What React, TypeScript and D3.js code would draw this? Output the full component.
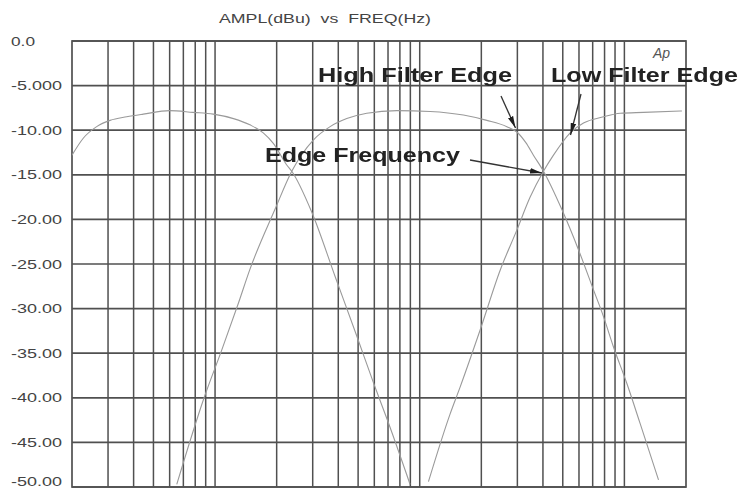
import React from "react";
import * as d3 from "d3";

const W = 741;
const H = 490;

const yTickValues = [0, -5, -10, -15, -20, -25, -30, -35, -40, -45, -50];
const yTickLabels = ["0.0", "-5.000", "-10.00", "-15.00", "-20.00", "-25.00", "-30.00", "-35.00", "-40.00", "-45.00", "-50.00"];

const title = "AMPL(dBu)  vs  FREQ(Hz)";

// Curve A (low band)
const freqA = [20, 22.7, 26.4, 30.7, 37, 44.6, 60, 78, 98, 123, 148, 172, 193, 224, 237, 297, 386, 493, 594, 703, 897];
const ampA = [-12.8, -10.9, -9.6, -8.9, -8.5, -8.2, -7.8, -8.0, -8.2, -8.7, -9.4, -10.3, -11.5, -13.9, -14.6, -19.2, -26.4, -33.1, -38.3, -42.8, -49.7];

// Curve B (mid band)
const freqB = [65, 89, 108, 130, 148, 196, 237, 302, 365, 440, 551, 773, 1124, 1635, 2128, 2665, 2982, 3300, 3594, 4024, 4950, 5966, 7064, 7906, 8846, 10284, 11944, 14678];
const ampB = [-49.7, -39.8, -34.6, -29.4, -25.6, -18.9, -14.6, -11.1, -9.6, -8.7, -8.1, -7.8, -7.9, -8.3, -8.9, -9.6, -10.2, -11.4, -12.8, -14.6, -18.9, -23.4, -27.9, -30.9, -34.3, -38.4, -42.9, -49.2];

// Curve C (high band)
const freqC = [1103, 1408, 1575, 1973, 2472, 2982, 3464, 4024, 4503, 5435, 6312, 7906, 9537, 12400, 19098];
const ampC = [-49.4, -41.8, -38.8, -32.4, -25.7, -21.2, -17.5, -14.6, -12.8, -10.3, -9.2, -8.5, -8.1, -8.0, -7.85];

const annotations = ["High Filter Edge", "Low Filter Edge", "Edge Frequency"];

export default function App() {
  const x = d3.scaleLog().domain([20, 20000]).range([72, 686]);
  const y = d3.scaleLinear().domain([0, -50]).range([41, 487]);

  const gridX = x.ticks().filter((t) => t > 20 && t < 20000);

  const line = d3
    .line<[number, number]>()
    .x((d) => x(d[0]))
    .y((d) => y(d[1]))
    .curve(d3.curveMonotoneX);

  const series = [
    freqA.map((f, i) => [f, ampA[i]] as [number, number]),
    freqB.map((f, i) => [f, ampB[i]] as [number, number]),
    freqC.map((f, i) => [f, ampC[i]] as [number, number]),
  ];

  const font = "'Liberation Sans', Arial, Helvetica, sans-serif";
  const gridColor = "#505050";

  return (
    <svg
      width={W}
      height={H}
      style={{ position: "absolute", left: 0, top: 0, background: "#fff" }}
    >
      <defs>
        <marker id="ah" viewBox="0 0 12 8" refX="12" refY="4" markerWidth="12" markerHeight="8" orient="auto" markerUnits="userSpaceOnUse">
          <path d="M0,1.2 L12,4 L0,6.8 z" fill="#1e1e1e" />
        </marker>
        <clipPath id="plot">
          <rect x={72} y={41} width={614} height={446} />
        </clipPath>
        <filter id="soft" x="-5%" y="-20%" width="110%" height="140%">
          <feGaussianBlur stdDeviation="0.5" />
        </filter>
      </defs>

      <text
        x={219}
        y={23}
        fontFamily={font}
        fontSize={13}
        fill="#444"
        textLength={212}
        lengthAdjust="spacingAndGlyphs"
        style={{ whiteSpace: "pre" }}
      >
        {title}
      </text>

      {/* horizontal grid */}
      {yTickValues.map((v) => (
        <line key={"h" + v} x1={72} x2={686} y1={y(v)} y2={y(v)} stroke={gridColor} strokeWidth={1.7} />
      ))}
      {/* vertical grid */}
      {gridX.map((t) => (
        <line key={"v" + t} x1={x(t)} x2={x(t)} y1={41} y2={487} stroke={gridColor} strokeWidth={1.5} />
      ))}
      <rect x={72} y={41} width={614} height={446} fill="none" stroke={gridColor} strokeWidth={1.7} />

      {/* y labels */}
      {yTickValues.map((v, i) => (
        <text
          key={"l" + v}
          x={11}
          y={Math.min(y(v) + 4.5, 486)}
          fontFamily={font}
          fontSize={12.5}
          fill="#444"
          textLength={yTickLabels[i].length === 3 ? 24 : 51}
          lengthAdjust="spacingAndGlyphs"
        >
          {yTickLabels[i]}
        </text>
      ))}

      {/* curves */}
      <g clipPath="url(#plot)">
        {series.map((s, i) => (
          <path key={"c" + i} d={line(s) || ""} fill="none" stroke="#9a9a9a" strokeWidth={1.1} />
        ))}
      </g>

      {/* Ap */}
      <text x={653} y={58} fontFamily={font} fontSize={14} fontStyle="italic" fill="#555">
        Ap
      </text>

      {/* annotations */}
      <g fontFamily={font} fontWeight="bold" fontSize={20} fill="#222">
        <text x={318} y={82} textLength={194} lengthAdjust="spacingAndGlyphs" filter="url(#soft)">
          {annotations[0]}
        </text>
        <text x={551} y={82} textLength={187} lengthAdjust="spacingAndGlyphs" filter="url(#soft)">
          {annotations[1]}
        </text>
        <text x={265} y={162} textLength={195} lengthAdjust="spacingAndGlyphs" filter="url(#soft)">
          {annotations[2]}
        </text>
      </g>

      {/* arrows */}
      <g stroke="#333" strokeWidth={1.3} fill="none">
        <line x1={501} y1={96} x2={515.5} y2={128} markerEnd="url(#ah)" />
        <line x1={581} y1={94} x2={570.5} y2={135} markerEnd="url(#ah)" />
        <line x1={470} y1={160} x2={542} y2={173} markerEnd="url(#ah)" />
      </g>
    </svg>
  );
}
